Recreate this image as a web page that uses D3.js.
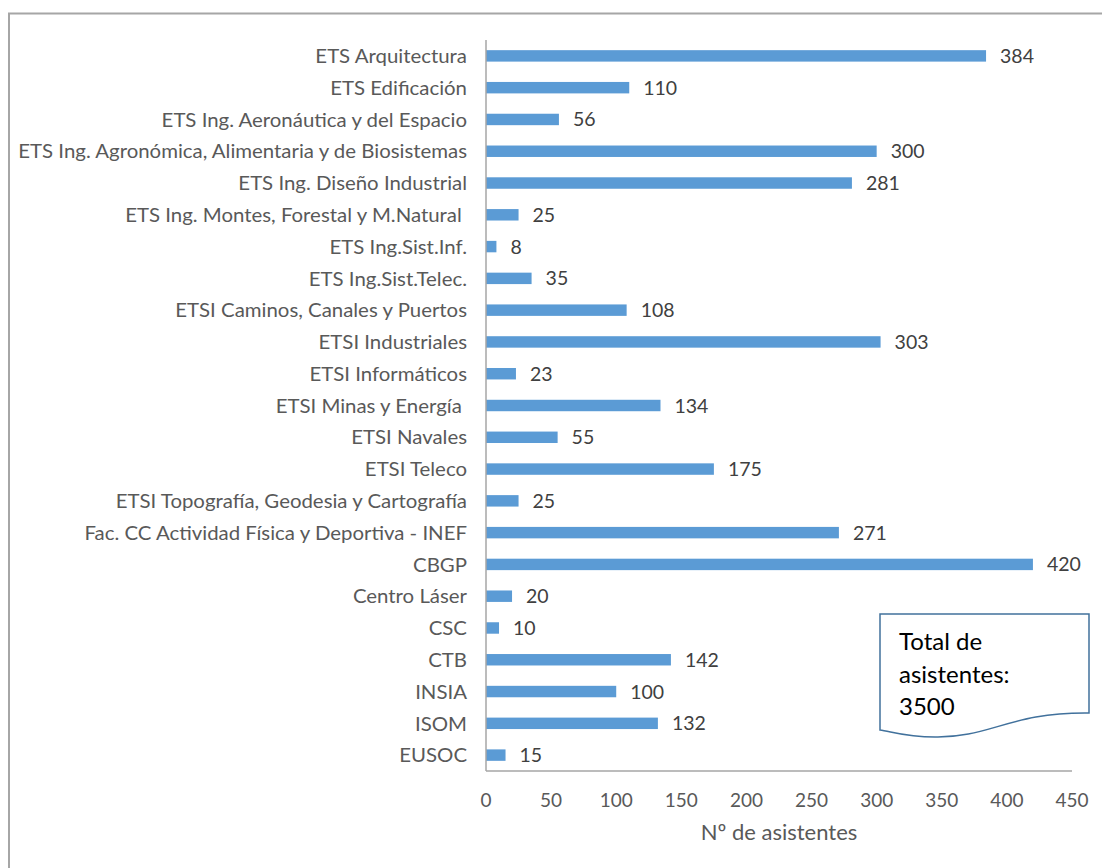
<!DOCTYPE html>
<html>
<head>
<meta charset="utf-8">
<script src="https://cdn.jsdelivr.net/npm/d3@7"></script>
<style>
  html, body { margin: 0; padding: 0; background: #fff; }
  svg { display: block; }
  text { font-family: Lato, "Open Sans", sans-serif; }
</style>
</head>
<body>
<svg id="chart" width="1102" height="868"></svg>
<script>
const categories = [
  "ETS Arquitectura",
  "ETS Edificación",
  "ETS Ing. Aeronáutica y del Espacio",
  "ETS Ing. Agronómica, Alimentaria y de Biosistemas",
  "ETS Ing. Diseño Industrial",
  "ETS Ing. Montes, Forestal y M.Natural ",
  "ETS Ing.Sist.Inf.",
  "ETS Ing.Sist.Telec.",
  "ETSI Caminos, Canales y Puertos",
  "ETSI Industriales",
  "ETSI Informáticos",
  "ETSI Minas y Energía ",
  "ETSI Navales",
  "ETSI Teleco",
  "ETSI Topografía, Geodesia y Cartografía",
  "Fac. CC Actividad Física y Deportiva - INEF",
  "CBGP",
  "Centro Láser",
  "CSC",
  "CTB",
  "INSIA",
  "ISOM",
  "EUSOC"
];
const values = [384, 110, 56, 300, 281, 25, 8, 35, 108, 303, 23, 134, 55, 175, 25, 271, 420, 20, 10, 142, 100, 132, 15];
const xTicks = [0, 50, 100, 150, 200, 250, 300, 350, 400, 450];
const xTitle = "Nº de asistentes";
const noteLines = ["Total de", "asistentes:", "3500"];

const STRETCH = 1.02; // slight horizontal stretch for category labels
const svg = d3.select("#chart");

function placeText(sel, fx, fy, sx) {
  sel.attr("x", 0).attr("y", 0)
     .attr("transform", (d, i) => `translate(${fx(d, i)},${fy(d, i)}) scale(${sx},1)`);
}

// outer chart frame
svg.append("rect")
  .attr("x", 9).attr("y", 13.5)
  .attr("width", 1102).attr("height", 900)
  .attr("fill", "none").attr("stroke", "#a6a6a6").attr("stroke-width", 2);

const x = d3.scaleLinear().domain([0, 450]).range([486, 1072]);
const y = d3.scaleBand().domain(categories).range([40, 771]).paddingInner(0.64).paddingOuter(0.32);

// bars
svg.append("g").selectAll("rect")
  .data(values)
  .join("rect")
  .attr("x", x(0))
  .attr("y", (d, i) => y(categories[i]))
  .attr("width", d => x(d) - x(0))
  .attr("height", y.bandwidth())
  .attr("fill", "#5b9bd5");

// value labels
svg.append("g").selectAll("text")
  .data(values)
  .join("text")
  .call(placeText, d => x(d) + 14, (d, i) => y(categories[i]) + y.bandwidth() / 2, 1.0)
  .attr("dy", "0.36em")
  .attr("font-size", 19.5)
  .attr("fill", "#404040")
  .text(d => d);

// category labels
svg.append("g").selectAll("text")
  .data(categories)
  .join("text")
  .call(placeText, () => 467, d => y(d) + y.bandwidth() / 2, STRETCH)
  .attr("dy", "0.36em")
  .attr("text-anchor", "end")
  .attr("font-size", 20)
  .attr("fill", "#595959")
  .style("white-space", "pre")
  .text(d => d);

// axis lines
svg.append("line")
  .attr("x1", x(0)).attr("x2", x(0)).attr("y1", 40).attr("y2", 771)
  .attr("stroke", "#a6a6a6").attr("stroke-width", 1.5);
svg.append("line")
  .attr("x1", x(0)).attr("x2", x(450)).attr("y1", 771).attr("y2", 771)
  .attr("stroke", "#a6a6a6").attr("stroke-width", 1.5);

// x tick labels
svg.append("g").selectAll("text")
  .data(xTicks)
  .join("text")
  .call(placeText, d => x(d), () => 800, 1.0)
  .attr("dy", "0.36em")
  .attr("text-anchor", "middle")
  .attr("font-size", 19)
  .attr("fill", "#595959")
  .text(d => d);

// x title
svg.append("text")
  .datum(xTitle)
  .call(placeText, () => x(225), () => 832, 1.0)
  .attr("dy", "0.36em")
  .attr("text-anchor", "middle")
  .attr("font-size", 22)
  .attr("fill", "#595959")
  .text(d => d);

// note box (document shape)
const bx0 = 880, bx1 = 1089, by0 = 614;
const p = d3.path();
p.moveTo(bx0, by0);
p.lineTo(bx1, by0);
p.lineTo(bx1, 713);
p.bezierCurveTo(1010, 712, 990, 738, 935, 737);
p.bezierCurveTo(905, 737, 890, 731, bx0, 730);
p.closePath();
svg.append("path")
  .attr("d", p.toString())
  .attr("fill", "#fff")
  .attr("stroke", "#41719c")
  .attr("stroke-width", 1.5);

svg.append("g").selectAll("text")
  .data(noteLines)
  .join("text")
  .call(placeText, () => 899, (d, i) => 650 + i * 32.5, 1.0)
  .attr("font-size", 24)
  .attr("fill", "#000")
  .text(d => d);
</script>
</body>
</html>
